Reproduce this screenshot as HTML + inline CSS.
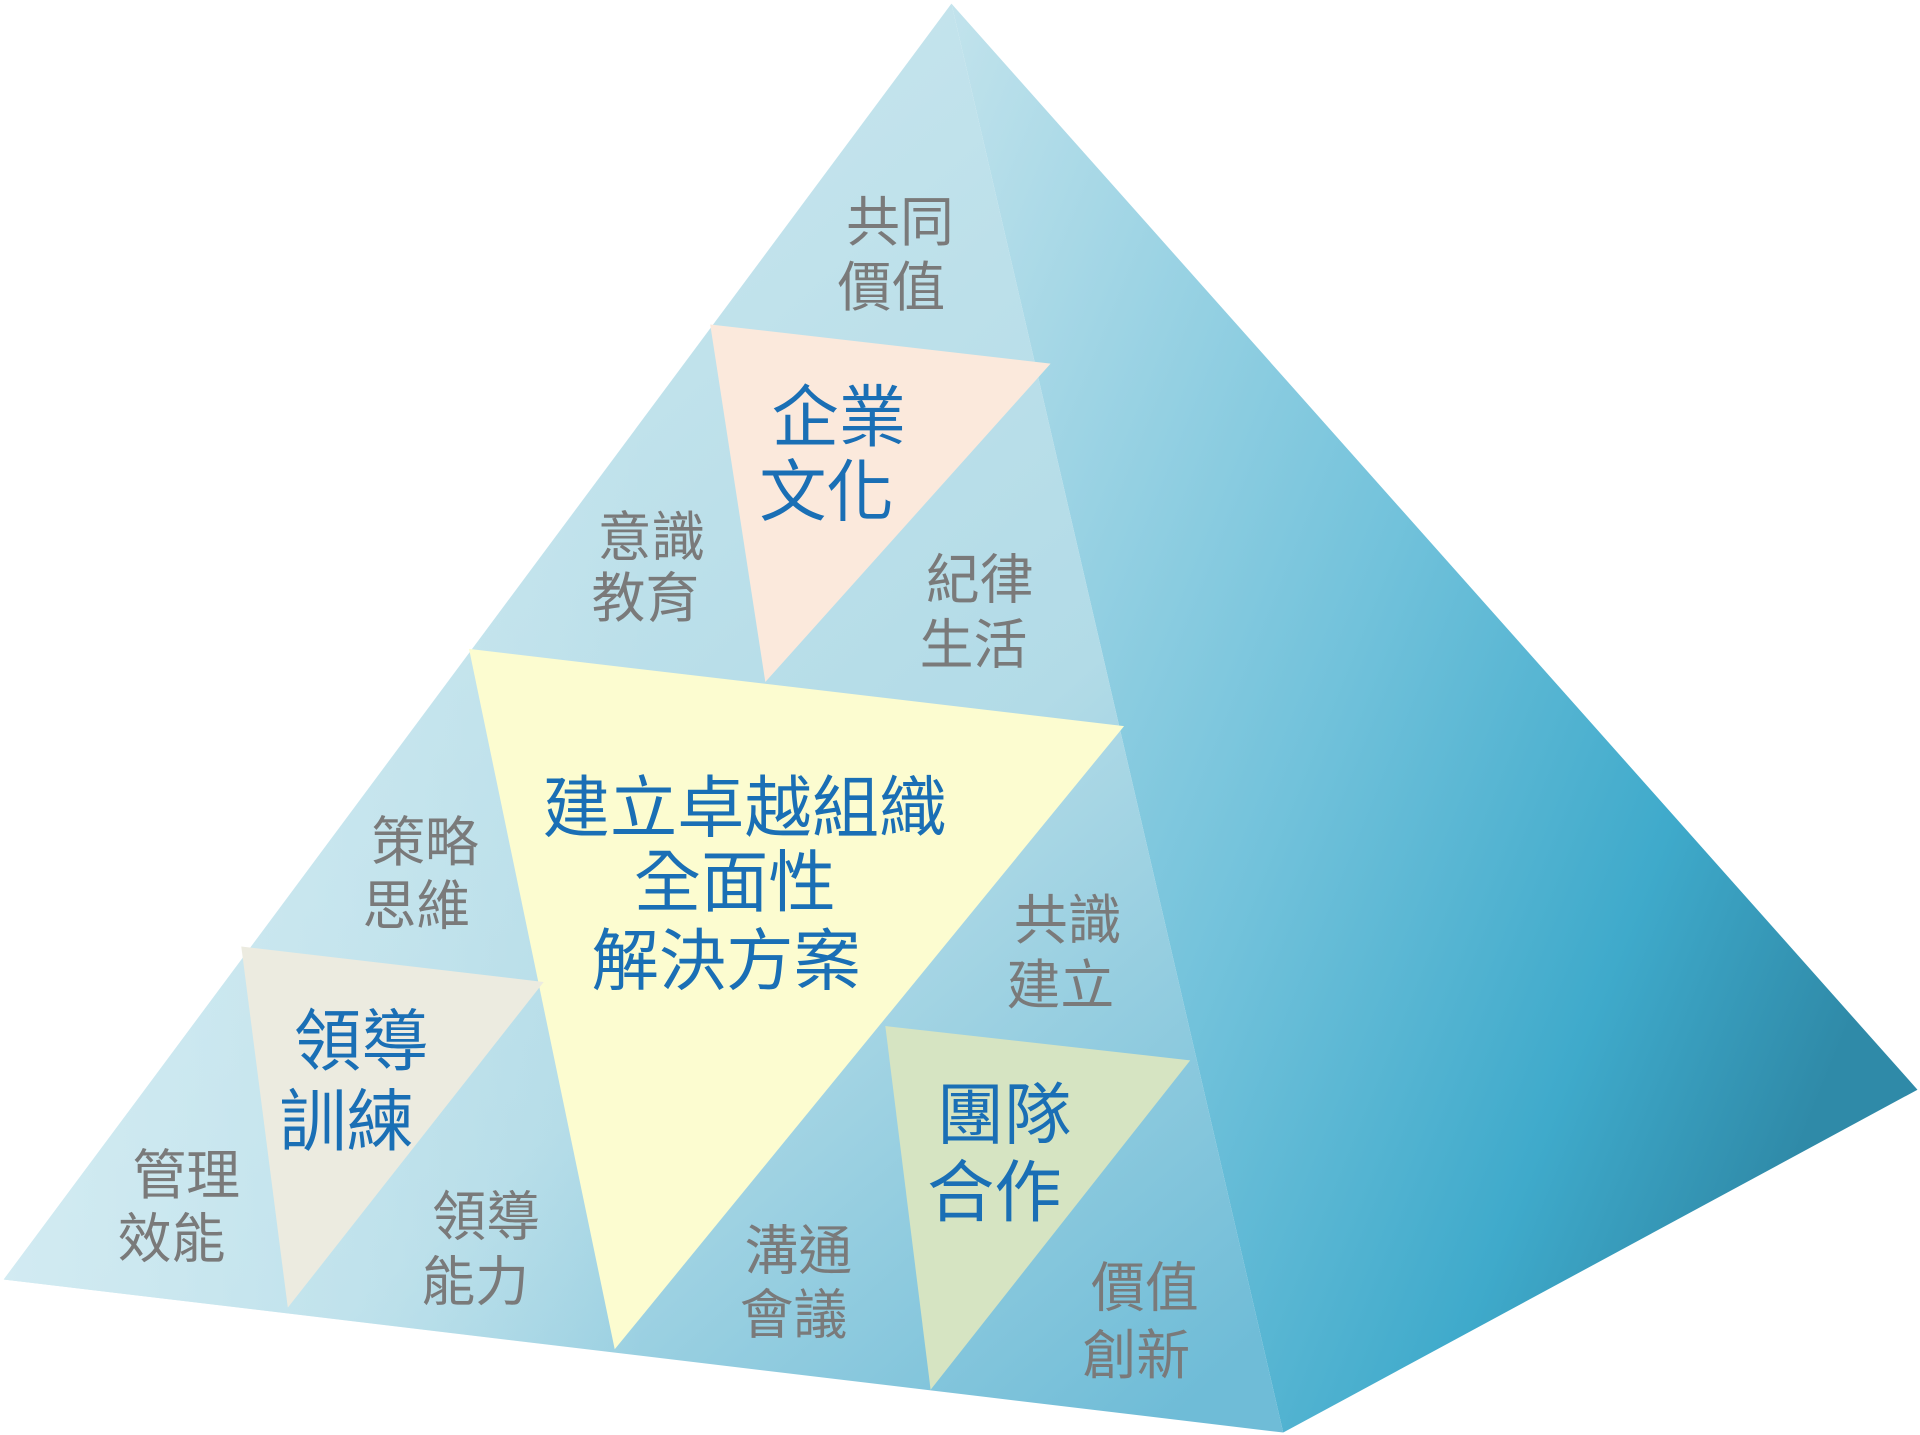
<!DOCTYPE html>
<html><head><meta charset="utf-8"><style>
html,body{margin:0;padding:0;background:#fff;}
svg{display:block;}
text{font-family:"Liberation Sans","Noto Sans CJK TC",sans-serif;text-anchor:middle;}
.g{fill:#7a7a7a;font-size:44px;}
.b{fill:#1a6fb5;font-size:55px;}
.c{fill:#1a6fb5;font-size:55px;}
</style></head><body>
<svg width="1920" height="1435" viewBox="0 0 1568 1172" xmlns="http://www.w3.org/2000/svg">
<defs>
<linearGradient id="front" x1="0.2" y1="0.1" x2="0.9" y2="1">
<stop offset="0" stop-color="#cde8ef"/>
<stop offset="0.6" stop-color="#b2dbe7"/>
<stop offset="1" stop-color="#6fbcd7"/>
</linearGradient>
<linearGradient id="fl" x1="0" y1="0" x2="1" y2="0">
<stop offset="0" stop-color="#d8eef4" stop-opacity="0.8"/>
<stop offset="0.5" stop-color="#d8eef4" stop-opacity="0"/>
</linearGradient>
<linearGradient id="right" x1="0" y1="0" x2="1" y2="0.6">
<stop offset="0" stop-color="#c2e3ec"/>
<stop offset="0.5" stop-color="#72c2db"/>
<stop offset="0.8" stop-color="#3faacb"/>
<stop offset="1" stop-color="#2f8aa8"/>
</linearGradient>
</defs>
<polygon points="777,3 1566,890 1048,1170" fill="url(#right)"/>
<polygon points="777,3 1048,1170 3,1045" fill="url(#front)"/>
<polygon points="777,3 1048,1170 3,1045" fill="url(#fl)"/>
<polygon points="580,265 858,297 625,557" fill="#fbe9dc"/>
<polygon points="383,530 918,593 502,1102" fill="#fcfcd0"/>
<polygon points="197,773 444,802 235,1068" fill="#ecebe0"/>
<polygon points="723,838 972,866 760,1135" fill="#d6e4c2"/>

<text class="g" x="735" y="197">共同</text>
<text class="g" x="728" y="250">價值</text>
<text class="b" x="685" y="360">企業</text>
<text class="b" x="675" y="421">文化</text>
<text class="g" x="532" y="454">意識</text>
<text class="g" x="527" y="504">教育</text>
<text class="g" x="800" y="489">紀律</text>
<text class="g" x="795" y="542">生活</text>
<text class="c" x="608" y="679">建立卓越組織</text>
<text class="c" x="600" y="740">全面性</text>
<text class="c" x="593" y="804">解決方案</text>
<text class="g" x="347" y="703">策略</text>
<text class="g" x="340" y="755">思維</text>
<text class="g" x="872" y="767">共識</text>
<text class="g" x="866" y="820">建立</text>
<text class="b" x="295" y="870">領導</text>
<text class="b" x="283" y="935">訓練</text>
<text class="b" x="820" y="930">團隊</text>
<text class="b" x="812" y="993">合作</text>
<text class="g" x="152" y="975">管理</text>
<text class="g" x="140" y="1027">效能</text>
<text class="g" x="397" y="1009">領導</text>
<text class="g" x="388" y="1062">能力</text>
<text class="g" x="652" y="1037">溝通</text>
<text class="g" x="648" y="1089">會議</text>
<text class="g" x="935" y="1067">價值</text>
<text class="g" x="928" y="1122">創新</text>
</svg>
</body></html>
